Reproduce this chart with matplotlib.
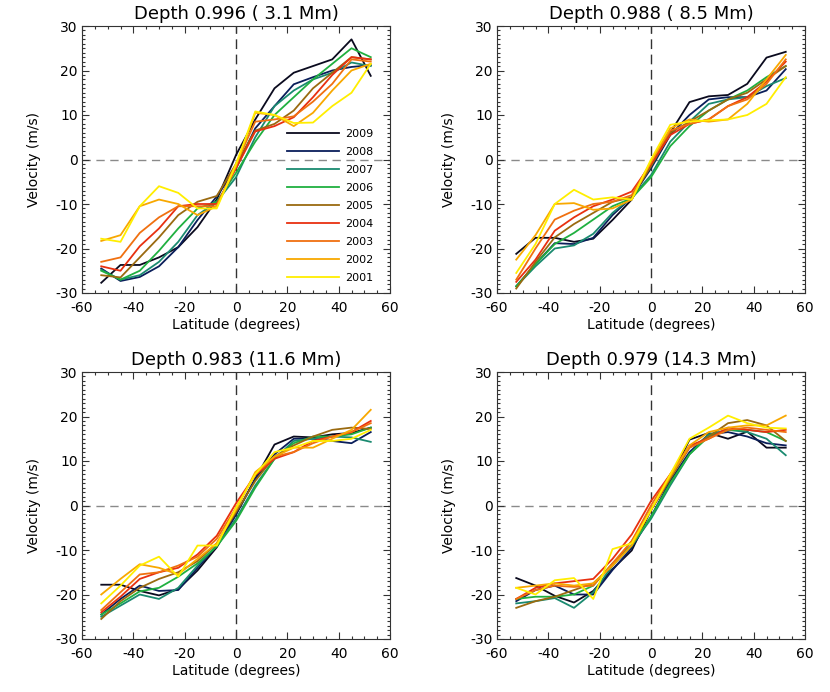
import matplotlib.pyplot as plt
from matplotlib.ticker import MultipleLocator

plt.rcParams['font.family'] = ['DejaVu Sans']
plt.rcParams['axes.unicode_minus'] = False

# latitude bins (degrees)
lat = [-52.5, -45, -37.5, -30, -22.5, -15, -7.5, 0, 7.5, 15, 22.5, 30, 37.5, 45, 52.5]

years = ['2009', '2008', '2007', '2006', '2005', '2004', '2003', '2002', '2001']
colors = ['#0a0a1e', '#0a1e5a', '#1a8a70', '#20b040', '#9a6a10',
          '#e83010', '#f07010', '#f8a800', '#ffee00']

titles = ['Depth 0.996 ( 3.1 Mm)', 'Depth 0.988 ( 8.5 Mm)',
          'Depth 0.983 (11.6 Mm)', 'Depth 0.979 (14.3 Mm)']

# --- depth 0.996 ---
d1_2009 = [-27.7, -23.7, -23.7, -22, -19.7, -15.2, -9, 1, 9, 16, 19.5, 21, 22.5, 27, 18.8]
d1_2008 = [-24.5, -27.3, -26.4, -24, -19.7, -13.6, -8.3, -2, 7, 12, 16.9, 18.5, 20, 20.8, 21.2]
d1_2007 = [-24.8, -27, -26, -23, -18.5, -12.5, -9.5, -4, 5, 12, 15.5, 18, 19.5, 21.8, 21]
d1_2006 = [-25, -27, -25, -20.5, -15.5, -11, -9.5, -3, 4, 10, 14, 18, 21.5, 25, 23]
d1_2005 = [-26, -26.5, -22, -17.5, -12.5, -9.5, -8.2, -1, 6.5, 8, 11, 16, 19.5, 23, 22.5]
d1_2004 = [-24, -25, -19.5, -15.5, -10.5, -10, -10, -2, 6.3, 7.5, 9.5, 14, 19, 23, 22.5]
d1_2003 = [-23, -22, -16.5, -13, -10.5, -10.5, -10.5, -1, 8.5, 9, 9.7, 13, 17, 22.5, 22]
d1_2002 = [-18.3, -17, -10.5, -9, -10, -12.5, -10.5, -1.5, 10.5, 10, 7.5, 10.5, 15.5, 20, 21.5]
d1_2001 = [-17.8, -18.5, -10.5, -6, -7.5, -11, -11, -1, 10.8, 10, 8.2, 8.3, 12, 15, 21.5]

# --- depth 0.988 ---
d2_2009 = [-21.2, -17.6, -17.6, -18.5, -17.8, -13.6, -9, -1, 6, 12.9, 14.2, 14.5, 17, 22.9, 24.2]
d2_2008 = [-28.5, -23.5, -18.8, -19, -17.6, -12.5, -8.5, -2, 5.5, 10, 13.5, 14, 14, 15.5, 20.3]
d2_2007 = [-28.5, -24, -20, -19.3, -16.7, -12, -8.5, -3.5, 4, 8.5, 12.5, 13.5, 14, 16.5, 18.3]
d2_2006 = [-28.5, -23.5, -19, -16.5, -13.5, -10.5, -8.7, -4, 3, 7.5, 11, 13.5, 15.5, 18.5, 21]
d2_2005 = [-29, -23, -17.5, -14.5, -12, -9.5, -8.5, -1.5, 6, 8.5, 11, 13.5, 15, 18, 21]
d2_2004 = [-27.5, -22.5, -16, -13, -10.5, -9, -7.2, -1, 5.5, 8, 9, 12, 14, 17.5, 22]
d2_2003 = [-27, -20, -13.5, -11.5, -10, -9.5, -8, -0.5, 6.5, 8, 9, 12, 13.5, 17, 22.5]
d2_2002 = [-22.5, -17, -10, -9.8, -11.3, -11, -9, -0.5, 7, 9, 8.5, 9, 12.5, 18, 23.5]
d2_2001 = [-25.5, -19, -10, -6.8, -9, -8.5, -9, 0, 7.8, 8.5, 8.8, 9, 10, 12.5, 18.5]

# --- depth 0.983 ---
d3_2009 = [-17.8, -17.8, -19.2, -20.2, -18.8, -14.6, -9.4, -2, 6, 13.7, 15.5, 15.3, 16, 16.3, 17.5]
d3_2008 = [-24.5, -21, -18, -19.2, -19, -14, -9, -2, 6, 11.5, 15, 15, 14.5, 14, 16.5]
d3_2007 = [-25, -22.5, -20, -21, -18.5, -13.5, -9, -3, 4.5, 10.5, 14.5, 15, 15.5, 15.3, 14.3]
d3_2006 = [-24.5, -22, -19.3, -18.5, -16, -13, -9.2, -3.5, 4, 10.5, 14, 15.5, 15.5, 16, 17.5]
d3_2005 = [-25.5, -21.5, -18.5, -16.5, -15, -12.5, -8.5, -1.5, 5.5, 11, 13.5, 15.5, 17, 17.5, 17.2]
d3_2004 = [-24, -20.5, -16.5, -15, -14, -11, -6.8, 0.5, 6.8, 10.5, 12, 14.5, 15.5, 16.5, 19]
d3_2003 = [-23.5, -19.5, -15.5, -15, -13.5, -11.5, -7.5, -0.5, 7, 11, 12, 14, 15.5, 16.5, 18.5]
d3_2002 = [-20, -16.5, -13.2, -14, -15.5, -12, -8.5, -1, 7.5, 11, 13, 13, 15, 17, 21.5]
d3_2001 = [-22, -18, -13.5, -11.5, -16, -9, -9, -0.5, 7, 12, 13, 14.5, 14.5, 15, 17]

# --- depth 0.979 ---
d4_2009 = [-16.3, -18, -20.3, -21.8, -19.2, -14.3, -10.1, -1, 6, 14.8, 16.3, 15, 16.6, 13, 13]
d4_2008 = [-21.5, -19, -18, -20, -20, -14.5, -9.5, -2.5, 5.5, 12, 16, 16.5, 15.5, 14, 13.5]
d4_2007 = [-22, -21.5, -20.8, -23, -19.5, -13.5, -9, -3, 4.5, 11.5, 16, 17, 16.5, 15, 11.3]
d4_2006 = [-21, -20.5, -20.5, -20, -18, -13, -9, -2.5, 5, 11.5, 15.5, 17, 17, 16.5, 14.5]
d4_2005 = [-23, -21.5, -20.5, -19, -17.5, -13.5, -8, -1, 6, 13, 15.5, 18.5, 19.2, 18, 14.5]
d4_2004 = [-21, -18.5, -17.5, -17, -16.5, -12, -6.5, 1, 7, 13.5, 15, 17.5, 17, 16.5, 17]
d4_2003 = [-21, -19, -18, -18.3, -18, -13, -8, 0, 7, 13, 15, 17, 17.5, 17, 16.5]
d4_2002 = [-18.5, -18, -17.5, -18, -17.5, -13.5, -9, -1, 6.5, 13.5, 16.5, 17.5, 18, 18, 20.2]
d4_2001 = [-18.5, -20, -16.8, -16.3, -21, -9.8, -8.5, -1, 7, 15, 17.5, 20.2, 18.5, 17.5, 17.3]

panels = [
    [d1_2009, d1_2008, d1_2007, d1_2006, d1_2005, d1_2004, d1_2003, d1_2002, d1_2001],
    [d2_2009, d2_2008, d2_2007, d2_2006, d2_2005, d2_2004, d2_2003, d2_2002, d2_2001],
    [d3_2009, d3_2008, d3_2007, d3_2006, d3_2005, d3_2004, d3_2003, d3_2002, d3_2001],
    [d4_2009, d4_2008, d4_2007, d4_2006, d4_2005, d4_2004, d4_2003, d4_2002, d4_2001],
]

fig = plt.figure(figsize=(8.3, 6.92), dpi=100)
W, H = 830, 692
boxes = [(82, 26), (497, 26), (82, 372), (497, 372)]
aw, ah = 308, 267

for i, (x0, y0) in enumerate(boxes):
    ax = fig.add_axes([x0 / W, 1 - (y0 + ah) / H, aw / W, ah / H])
    ax.axhline(0, color='#8a8a8a', linestyle=(0, (6, 4)), linewidth=1.0, zorder=1)
    ax.axvline(0, color='#333333', linestyle=(0, (7, 4)), linewidth=1.0, zorder=1)
    for yr, c, v in zip(years, colors, panels[i]):
        ax.plot(lat, v, color=c, linewidth=1.3, label=yr, zorder=2)
    ax.set_xlim(-60, 60)
    ax.set_ylim(-30, 30)
    ax.xaxis.set_major_locator(MultipleLocator(20))
    ax.xaxis.set_minor_locator(MultipleLocator(5))
    ax.yaxis.set_major_locator(MultipleLocator(10))
    ax.yaxis.set_minor_locator(MultipleLocator(1))
    ax.tick_params(which='both', direction='in', top=True, right=True,
                   labelsize=10, width=0.8, color='#333333')
    ax.tick_params(which='major', length=5)
    ax.tick_params(which='minor', length=2.5)
    ax.tick_params(axis='x', pad=6)
    ax.tick_params(axis='y', pad=3)
    for s in ax.spines.values():
        s.set_color('#333333')
        s.set_linewidth(0.8)
    ax.set_title(titles[i], fontsize=13, pad=5)
    ax.set_xlabel('Latitude (degrees)', fontsize=10, labelpad=2)
    ax.set_ylabel('Velocity (m/s)', fontsize=10, labelpad=10)
    if i == 0:
        ax.legend(loc='upper left', bbox_to_anchor=(0.667, 0.615), frameon=False,
                  fontsize=8, handlelength=4.6, handletextpad=0.6,
                  labelspacing=0.72, borderpad=0, borderaxespad=0)

fig.savefig('out.png', dpi=100)
